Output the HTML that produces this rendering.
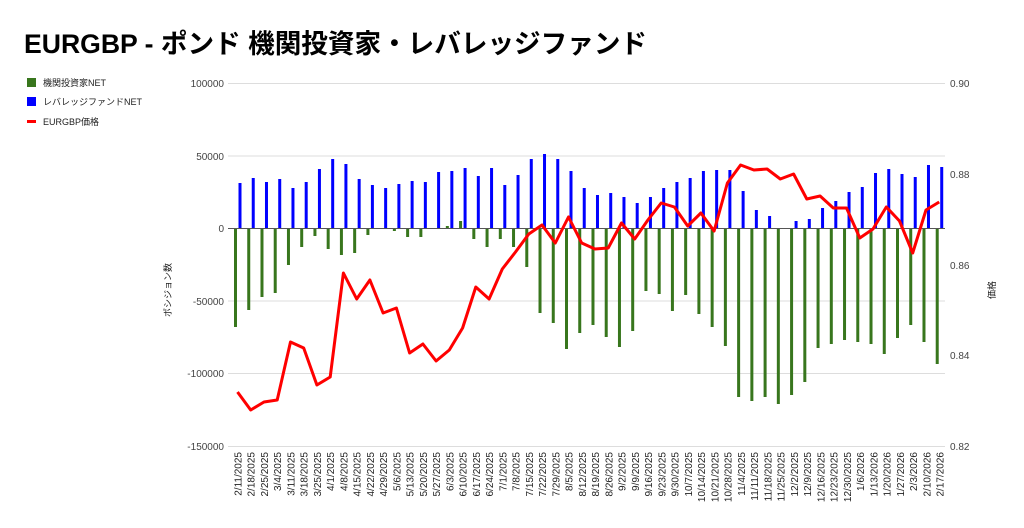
<!DOCTYPE html>
<html><head><meta charset="utf-8"><style>
body{margin:0;background:#fff;width:1024px;height:528px;overflow:hidden;font-family:"Liberation Sans","Noto Sans CJK JP",sans-serif}
svg{position:absolute;left:0;top:0}
</style></head><body>
<svg width="1024" height="528" viewBox="0 0 1024 528" font-family="Liberation Sans, Noto Sans CJK JP, sans-serif">
<text x="24" y="53" font-size="26.6" font-weight="bold" fill="#000">EURGBP - ポンド 機関投資家・レバレッジファンド</text>
<rect x="27" y="78" width="9" height="9" fill="#38761d"/><text x="43" y="86" font-size="9" fill="#222">機関投資家NET</text>
<rect x="27" y="97" width="9" height="9" fill="#0000ff"/><text x="43" y="105" font-size="9" fill="#222">レバレッジファンドNET</text>
<rect x="27" y="120" width="9" height="3" fill="#ff0000"/><text x="43" y="125" font-size="9" fill="#222">EURGBP価格</text>
<g stroke="#ddd" stroke-width="1">
<line x1="228" y1="83.5" x2="945" y2="83.5"/><line x1="228" y1="156" x2="945" y2="156"/>
<line x1="228" y1="301" x2="945" y2="301"/><line x1="228" y1="373.5" x2="945" y2="373.5"/><line x1="228" y1="446.5" x2="945" y2="446.5"/>
</g>
<g font-size="10" fill="#444" text-anchor="end">
<text x="224" y="87">100000</text><text x="224" y="160">50000</text><text x="224" y="232">0</text>
<text x="224" y="305">-50000</text><text x="224" y="377">-100000</text><text x="224" y="450">-150000</text>
</g>
<g font-size="10" fill="#444">
<text x="950" y="87">0.90</text><text x="950" y="178">0.88</text><text x="950" y="269">0.86</text>
<text x="950" y="359">0.84</text><text x="950" y="450">0.82</text>
</g>
<text transform="translate(171,290) rotate(-90)" font-size="9" fill="#222" text-anchor="middle">ポシジョン数</text>
<text transform="translate(995,290) rotate(-90)" font-size="9" fill="#222" text-anchor="middle">価格</text>
<g id="bars"></g>
<line x1="228" y1="228.5" x2="945" y2="228.5" stroke="#555" stroke-width="1"/>
<polyline id="line" fill="none" stroke="#ff0000" stroke-width="3" stroke-linejoin="round"/>
<g font-size="10" fill="#222" text-anchor="end" id="xl">
<text transform="translate(241.5,452) rotate(-90)">2/11/2025</text>
<text transform="translate(254.7,452) rotate(-90)">2/18/2025</text>
<text transform="translate(268.0,452) rotate(-90)">2/25/2025</text>
<text transform="translate(281.2,452) rotate(-90)">3/4/2025</text>
<text transform="translate(294.5,452) rotate(-90)">3/11/2025</text>
<text transform="translate(307.7,452) rotate(-90)">3/18/2025</text>
<text transform="translate(321.0,452) rotate(-90)">3/25/2025</text>
<text transform="translate(334.2,452) rotate(-90)">4/1/2025</text>
<text transform="translate(347.5,452) rotate(-90)">4/8/2025</text>
<text transform="translate(360.7,452) rotate(-90)">4/15/2025</text>
<text transform="translate(374.0,452) rotate(-90)">4/22/2025</text>
<text transform="translate(387.2,452) rotate(-90)">4/29/2025</text>
<text transform="translate(400.5,452) rotate(-90)">5/6/2025</text>
<text transform="translate(413.7,452) rotate(-90)">5/13/2025</text>
<text transform="translate(427.0,452) rotate(-90)">5/20/2025</text>
<text transform="translate(440.2,452) rotate(-90)">5/27/2025</text>
<text transform="translate(453.5,452) rotate(-90)">6/3/2025</text>
<text transform="translate(466.7,452) rotate(-90)">6/10/2025</text>
<text transform="translate(480.0,452) rotate(-90)">6/17/2025</text>
<text transform="translate(493.2,452) rotate(-90)">6/24/2025</text>
<text transform="translate(506.5,452) rotate(-90)">7/1/2025</text>
<text transform="translate(519.7,452) rotate(-90)">7/8/2025</text>
<text transform="translate(533.0,452) rotate(-90)">7/15/2025</text>
<text transform="translate(546.2,452) rotate(-90)">7/22/2025</text>
<text transform="translate(559.5,452) rotate(-90)">7/29/2025</text>
<text transform="translate(572.7,452) rotate(-90)">8/5/2025</text>
<text transform="translate(586.0,452) rotate(-90)">8/12/2025</text>
<text transform="translate(599.2,452) rotate(-90)">8/19/2025</text>
<text transform="translate(612.5,452) rotate(-90)">8/26/2025</text>
<text transform="translate(625.7,452) rotate(-90)">9/2/2025</text>
<text transform="translate(639.0,452) rotate(-90)">9/9/2025</text>
<text transform="translate(652.2,452) rotate(-90)">9/16/2025</text>
<text transform="translate(665.5,452) rotate(-90)">9/23/2025</text>
<text transform="translate(678.7,452) rotate(-90)">9/30/2025</text>
<text transform="translate(692.0,452) rotate(-90)">10/7/2025</text>
<text transform="translate(705.2,452) rotate(-90)">10/14/2025</text>
<text transform="translate(718.5,452) rotate(-90)">10/21/2025</text>
<text transform="translate(731.7,452) rotate(-90)">10/28/2025</text>
<text transform="translate(745.0,452) rotate(-90)">11/4/2025</text>
<text transform="translate(758.2,452) rotate(-90)">11/11/2025</text>
<text transform="translate(771.5,452) rotate(-90)">11/18/2025</text>
<text transform="translate(784.7,452) rotate(-90)">11/25/2025</text>
<text transform="translate(798.0,452) rotate(-90)">12/2/2025</text>
<text transform="translate(811.2,452) rotate(-90)">12/9/2025</text>
<text transform="translate(824.5,452) rotate(-90)">12/16/2025</text>
<text transform="translate(837.7,452) rotate(-90)">12/23/2025</text>
<text transform="translate(851.0,452) rotate(-90)">12/30/2025</text>
<text transform="translate(864.2,452) rotate(-90)">1/6/2026</text>
<text transform="translate(877.5,452) rotate(-90)">1/13/2026</text>
<text transform="translate(890.7,452) rotate(-90)">1/20/2026</text>
<text transform="translate(904.0,452) rotate(-90)">1/27/2026</text>
<text transform="translate(917.2,452) rotate(-90)">2/3/2026</text>
<text transform="translate(930.5,452) rotate(-90)">2/10/2026</text>
<text transform="translate(943.7,452) rotate(-90)">2/17/2026</text>
</g>
</svg>
<script>
var g=[327,310,297,293,265,247,236,249,255,253,235,229,231,237,237,229,226,221,239,247,239,247,267,313,323,349,333,325,337,347,331,291,294,311,295,314,327,346,397,401,397,404,395,382,348,344,340,342,344,354,338,325,342,364];
var b=[183,178,182,179,188,182,169,159,164,179,185,188,184,181,182,172,171,168,176,168,185,175,159,154,159,171,188,195,193,197,203,197,188,182,178,171,170,170,191,210,216,229,221,219,208,201,192,187,173,169,174,177,165,167];
var r=[392,410,402,400,342,348,385,377,273,299,280,313,308,353,344,361,350,328,287,299,269,252,234,225,243,217,243,249,248,223,239,220,203,207,226,213,231,183,165,170,169,179,174,199,196,208,208,238,229,207,221,253,210,202];
var s='',p=[],Z=228.5;
for(var i=0;i<54;i++){var c=237.5+13.24*i;
var y=g[i];s+='<rect x="'+(c-3.5)+'" y="'+Math.min(y,Z)+'" width="3" height="'+Math.abs(y-Z)+'" fill="#38761d"/>';
y=b[i];s+='<rect x="'+(c+1)+'" y="'+Math.min(y,Z)+'" width="3" height="'+Math.abs(y-Z)+'" fill="#0000ff"/>';
p.push(c.toFixed(1)+','+r[i]);}
document.getElementById('bars').innerHTML=s;
document.getElementById('line').setAttribute('points',p.join(' '));
</script>
</body></html>
